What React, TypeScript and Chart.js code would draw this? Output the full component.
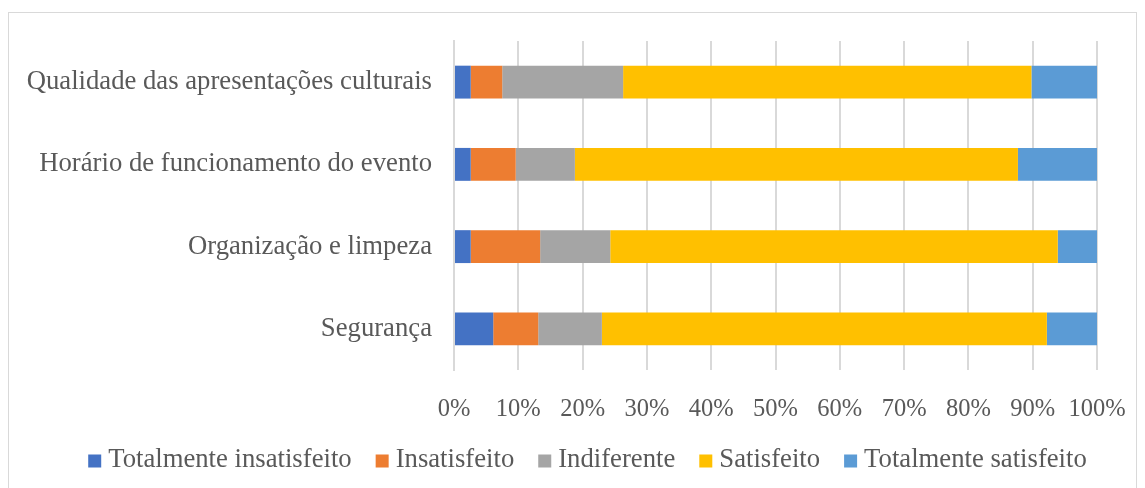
import React, { useEffect, useRef } from "react";
import { Chart, registerables } from "chart.js";

Chart.register(...registerables);

const categories = [
  "Qualidade das apresentações culturais",
  "Horário de funcionamento do evento",
  "Organização e limpeza",
  "Segurança",
];
const seriesNames = [
  "Totalmente insatisfeito",
  "Insatisfeito",
  "Indiferente",
  "Satisfeito",
  "Totalmente satisfeito",
];
const totalmenteInsatisfeito = [2.6, 2.6, 2.6, 6.1];
const insatisfeito = [4.9, 7.0, 10.8, 7.0];
const indiferente = [18.8, 9.2, 10.9, 9.9];
const satisfeito = [63.5, 68.9, 69.6, 69.2];
const totalmenteSatisfeito = [10.2, 12.3, 6.1, 7.8];
const xTicks = [0, 10, 20, 30, 40, 50, 60, 70, 80, 90, 100];

const colors = ["#4472C4", "#ED7D31", "#A5A5A5", "#FFC000", "#5B9BD5"];
const FAMILY = "'Liberation Serif', 'Times New Roman', serif";
const TEXT = "#595959";

const legendPlugin = {
  id: "customLegend",
  afterDraw(chart: any) {
    const ctx = chart.ctx;
    const size = 26.7;
    ctx.save();
    ctx.font = `${size}px ${FAMILY}`;
    ctx.textBaseline = "middle";
    ctx.textAlign = "left";
    const box = 13;
    const gapText = 7;
    const gapItem = 24;
    const items = chart.data.datasets.map((d: any) => ({
      label: d.label,
      color: d.backgroundColor,
      w: ctx.measureText(d.label).width,
    }));
    let total = 0;
    items.forEach((it: any, i: number) => {
      total += box + gapText + it.w + (i < items.length - 1 ? gapItem : 0);
    });
    const cy = 447;
    let x = chart.width / 2 + 15 - total / 2;
    items.forEach((it: any) => {
      ctx.fillStyle = it.color;
      ctx.fillRect(x, cy - box / 2 + 1, box, box);
      ctx.fillStyle = TEXT;
      ctx.fillText(it.label, x + box + gapText, cy);
      x += box + gapText + it.w + gapItem;
    });
    ctx.restore();
  },
};

export default function App() {
  const ref = useRef<HTMLCanvasElement | null>(null);
  useEffect(() => {
    if (!ref.current) return;
    const values = [
      totalmenteInsatisfeito,
      insatisfeito,
      indiferente,
      satisfeito,
      totalmenteSatisfeito,
    ];
    const chart = new Chart(ref.current, {
      type: "bar",
      data: {
        labels: categories,
        datasets: seriesNames.map((name, i) => ({
          label: name,
          data: values[i],
          backgroundColor: colors[i],
          borderWidth: 0,
          barPercentage: 0.4,
          categoryPercentage: 1,
        })),
      },
      plugins: [legendPlugin],
      options: {
        indexAxis: "y",
        animation: false,
        responsive: false,
        maintainAspectRatio: false,
        layout: { padding: { top: 28, right: 39, left: 0, bottom: 63 } },
        plugins: {
          tooltip: { enabled: false },
          legend: { display: false },
        },
        scales: {
          x: {
            stacked: true,
            min: 0,
            max: 100,
            afterBuildTicks: (scale: any) => {
              scale.ticks = xTicks.map((v) => ({ value: v }));
            },
            afterFit: (scale: any) => {
              scale.height = 60;
              scale.paddingLeft = 0;
              scale.paddingRight = 0;
            },
            ticks: {
              font: { family: FAMILY, size: 24.5 },
              color: TEXT,
              padding: 25,
              maxRotation: 0,
              autoSkip: false,
              callback: (v: any) => v + "%",
            },
            grid: { color: "#D9D9D9", lineWidth: 2, drawTicks: false },
            border: { display: false },
          },
          y: {
            stacked: true,
            afterFit: (scale: any) => {
              scale.width = 445;
              scale.paddingTop = 0;
              scale.paddingBottom = 0;
            },
            ticks: { font: { family: FAMILY, size: 26.7 }, color: TEXT, padding: 22 },
            grid: { display: false, drawTicks: false },
            border: { display: true, color: "#D9D9D9", width: 2 },
          },
        },
      },
    });
    return () => chart.destroy();
  }, []);
  return (
    <div style={{ paddingTop: 4 }}>
      <div
        style={{
          border: "1px solid #D9D9D9",
          width: 1127,
          height: 480,
          boxSizing: "content-box",
          background: "#fff",
        }}
      >
        <canvas ref={ref} width={1127} height={480} style={{ display: "block" }} />
      </div>
    </div>
  );
}
